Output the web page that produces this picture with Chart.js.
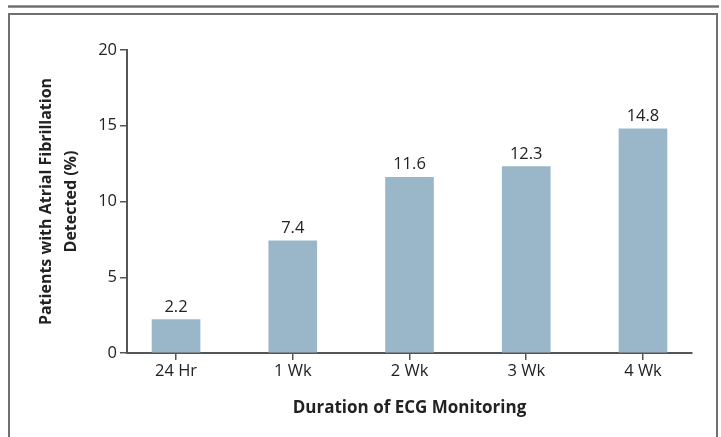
<!DOCTYPE html>
<html>
<head>
<meta charset="utf-8">
<script src="https://cdn.jsdelivr.net/npm/chart.js@4"></script>
<style>
  html, body { margin: 0; padding: 0; background: #fff; }
  #wrap { width: 721px; height: 437px; }
</style>
</head>
<body>
<div id="wrap"><canvas id="afChart"></canvas></div>
<script>
// --- Chart Data ---
const durations = ["24 Hr", "1 Wk", "2 Wk", "3 Wk", "4 Wk"];
const detectedPct = [2.2, 7.4, 11.6, 12.3, 14.8];
const yTicks = [0, 5, 10, 15, 20];

const FONT = "'Open Sans', 'Noto Sans', sans-serif";
const AXIS = "#555";

// --- Frame around the figure ---
const framePlugin = {
  id: "frame",
  beforeDraw(chart) {
    const { ctx, width, height } = chart;
    ctx.save();
    ctx.strokeStyle = "#707070";
    ctx.lineWidth = 2.5;
    ctx.beginPath();
    ctx.moveTo(8, 6.5);
    ctx.lineTo(width - 2, 6.5);
    ctx.stroke();
    ctx.lineWidth = 2;
    ctx.beginPath();
    ctx.moveTo(9, height + 5);
    ctx.lineTo(9, 14);
    ctx.lineTo(width - 4, 14);
    ctx.lineTo(width - 4, height + 5);
    ctx.stroke();
    ctx.restore();
  },
};

// --- Value labels above bars ---
const valueLabels = {
  id: "valueLabels",
  afterDatasetsDraw(chart) {
    const { ctx } = chart;
    const meta = chart.getDatasetMeta(0);
    ctx.save();
    ctx.font = "16.5px " + FONT;
    ctx.fillStyle = "#222";
    ctx.textAlign = "center";
    ctx.textBaseline = "alphabetic";
    meta.data.forEach((bar, i) => {
      ctx.fillText(detectedPct[i].toFixed(1), bar.x, bar.y - 8);
    });
    ctx.restore();
  },
};

new Chart(document.getElementById("afChart"), {
  type: "bar",
  data: {
    datasets: [
      {
        data: detectedPct.map((v, i) => ({ x: i, y: v })),
        backgroundColor: "#9ab7c9",
        barThickness: 48,
      },
    ],
  },
  options: {
    responsive: true,
    maintainAspectRatio: false,
    animation: false,
    layout: { padding: { left: 0, top: 50, right: 29, bottom: 0 } },
    plugins: {
      legend: { display: false },
      tooltip: { enabled: false },
    },
    scales: {
      x: {
        type: "linear",
        offset: false,
        min: -0.42,
        max: 4.42,
        afterBuildTicks: (scale) => {
          scale.ticks = durations.map((_, i) => ({ value: i }));
        },
        afterFit: (scale) => {
          scale.height = 84;
        },
        ticks: {
          callback: (v) => durations[v],
          color: "#222",
          font: { family: FONT, size: 16.5 },
          padding: 1,
          maxRotation: 0,
        },
        grid: {
          offset: false,
          drawOnChartArea: false,
          color: AXIS,
          tickLength: 7,
          lineWidth: 1.5,
        },
        border: { color: AXIS, width: 2 },
        title: {
          display: true,
          text: "Duration of ECG Monitoring",
          color: "#222",
          font: { family: FONT, size: 17, weight: "bold" },
          padding: { top: 0, bottom: 19 },
        },
      },
      y: {
        min: 0,
        max: 20,
        afterBuildTicks: (scale) => {
          scale.ticks = yTicks.map((v) => ({ value: v }));
        },
        afterFit: (scale) => {
          scale.width = 127;
        },
        ticks: {
          color: "#222",
          font: { family: FONT, size: 16.5 },
          padding: 3,
        },
        grid: {
          drawOnChartArea: false,
          color: AXIS,
          tickLength: 7,
          lineWidth: 1.5,
        },
        border: { color: AXIS, width: 2 },
        title: {
          display: true,
          text: ["Patients with Atrial Fibrillation", "Detected (%)"],
          color: "#222",
          font: { family: FONT, size: 16, weight: "bold", lineHeight: 1.5625 },
          padding: { top: 34, bottom: 0 },
        },
      },
    },
  },
  plugins: [framePlugin, valueLabels],
});
</script>
</body>
</html>
